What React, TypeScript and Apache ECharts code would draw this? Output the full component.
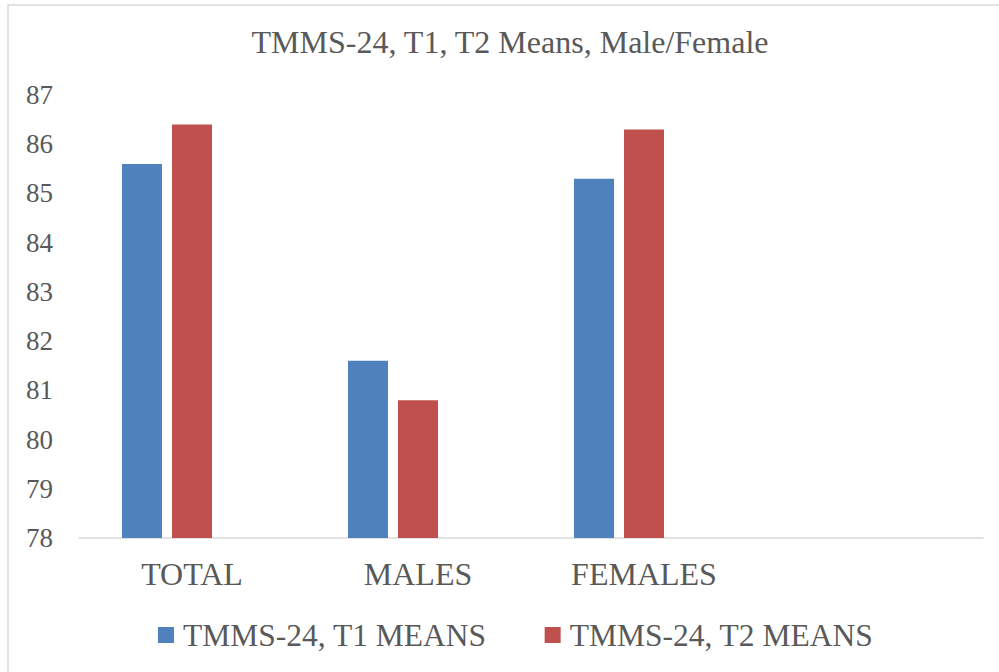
import React, { useEffect, useRef } from "react";
import * as echarts from "echarts";

const categories = ["TOTAL", "MALES", "FEMALES", ""];
const t1Means = [85.6, 81.6, 85.3, null];
const t2Means = [86.4, 80.8, 86.3, null];
const emptySeries = [null, null, null, null];
const seriesNames = ["TMMS-24, T1 MEANS", "TMMS-24, T2 MEANS"];
const titleText = "TMMS-24, T1, T2 Means, Male/Female";

const FONT = "Liberation Serif";
const TEXT_COLOR = "#595959";

export default function App() {
  const ref = useRef<HTMLDivElement>(null);
  useEffect(() => {
    if (!ref.current) return;
    const chart = echarts.init(ref.current, undefined, { renderer: "svg" });
    chart.setOption({
      animation: false,
      backgroundColor: "#ffffff",
      title: {
        text: titleText,
        left: 505,
        top: 21,
        textAlign: "center",
        textStyle: { fontFamily: FONT, fontSize: 32, fontWeight: "normal", color: TEXT_COLOR },
      },
      graphic: [
        {
          type: "rect",
          shape: { x: 8, y: 5, width: 1100, height: 800 },
          style: { fill: "none", stroke: "#D9D9D9", lineWidth: 1.5 },
          silent: true,
        },
      ],
      legend: {
        data: seriesNames,
        left: 153,
        top: 614,
        itemWidth: 16,
        itemHeight: 16,
        itemGap: 58,
        icon: "rect",
        textStyle: { fontFamily: FONT, fontSize: 31.5, color: TEXT_COLOR, padding: [0, 0, 0, 4] },
      },
      grid: { left: 79, right: 16, top: 95, bottom: 134, containLabel: false },
      xAxis: {
        type: "category",
        data: categories,
        axisLine: { show: true, lineStyle: { color: "#D9D9D9", width: 1.5 } },
        axisTick: { show: false },
        axisLabel: { fontFamily: FONT, fontSize: 32, color: TEXT_COLOR, margin: 20 },
      },
      yAxis: {
        type: "value",
        min: 78,
        max: 87,
        interval: 1,
        axisLine: { show: false },
        axisTick: { show: false },
        splitLine: { show: false },
        axisLabel: { fontFamily: FONT, fontSize: 27, color: TEXT_COLOR, margin: 26 },
      },
      series: [
        {
          name: seriesNames[0],
          type: "bar",
          data: t1Means,
          barWidth: 40,
          barGap: "25%",
          itemStyle: { color: "#4F81BD" },
        },
        {
          name: seriesNames[1],
          type: "bar",
          data: t2Means,
          barWidth: 40,
          barGap: "25%",
          itemStyle: { color: "#C0504D" },
        },
        {
          name: "empty",
          type: "bar",
          data: emptySeries,
          barWidth: 40,
          barGap: "25%",
          itemStyle: { color: "#9BBB59" },
        },
      ],
    });
    return () => chart.dispose();
  }, []);
  return (
    <div
      ref={ref}
      style={{ position: "fixed", left: 0, top: 0, width: 999, height: 672 }}
    />
  );
}
